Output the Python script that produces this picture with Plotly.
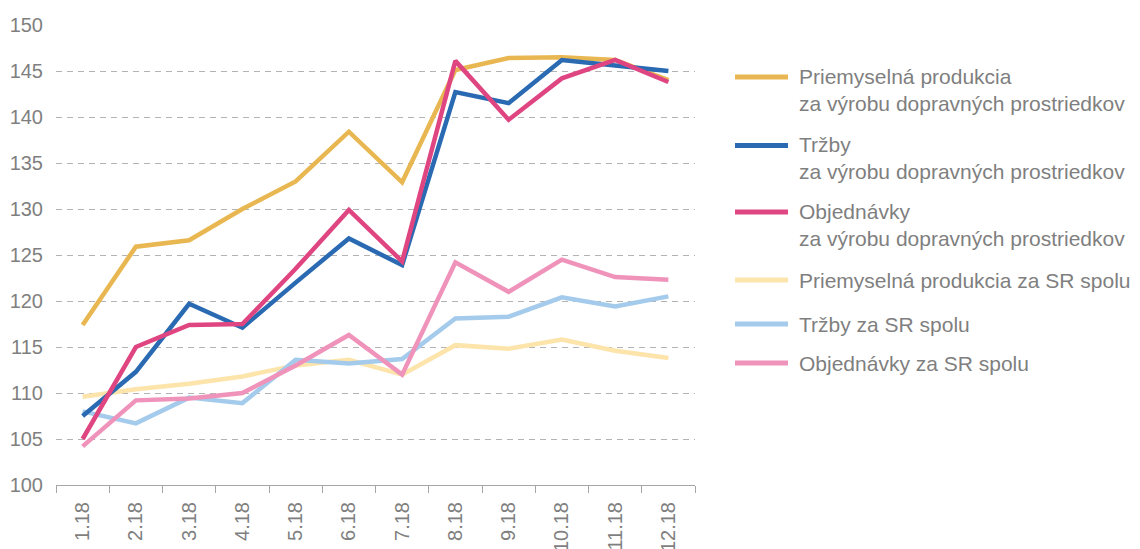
import plotly.graph_objects as go

categories = ["1.18", "2.18", "3.18", "4.18", "5.18", "6.18",
              "7.18", "8.18", "9.18", "10.18", "11.18", "12.18"]

prod_dp = [117.4, 125.9, 126.6, 130.0, 133.0, 138.4, 132.9, 145.1, 146.4, 146.5, 146.2, 144.0]
trzby_dp = [107.5, 112.3, 119.7, 117.1, 122.0, 126.8, 123.9, 142.7, 141.5, 146.2, 145.6, 145.0]
obj_dp = [105.0, 115.0, 117.4, 117.5, 123.5, 129.9, 124.3, 146.1, 139.7, 144.2, 146.2, 143.8]
prod_sr = [109.6, 110.4, 111.0, 111.8, 113.0, 113.6, 112.0, 115.2, 114.8, 115.8, 114.6, 113.8]
trzby_sr = [108.0, 106.7, 109.5, 108.9, 113.6, 113.2, 113.7, 118.1, 118.3, 120.4, 119.4, 120.5]
obj_sr = [104.2, 109.2, 109.4, 110.0, 113.0, 116.3, 112.0, 124.2, 121.0, 124.5, 122.6, 122.3]

series_names = [
    "Priemyselná produkcia<br>za výrobu dopravných prostriedkov",
    "Tržby<br>za výrobu dopravných prostriedkov",
    "Objednávky<br>za výrobu dopravných prostriedkov",
    "Priemyselná produkcia za SR spolu",
    "Tržby za SR spolu",
    "Objednávky za SR spolu",
]
series_values = [prod_dp, trzby_dp, obj_dp, prod_sr, trzby_sr, obj_sr]
series_colors = ["#E9B751", "#2A6AB2", "#DF4681", "#FCE4AB", "#A4CBEB", "#EF93BB"]

y_ticks = [100, 105, 110, 115, 120, 125, 130, 135, 140, 145, 150]

FONT = "Liberation Sans, Arial, sans-serif"
TXT = "#7f7f7f"

# the page body has an 8px default margin: size the figure to the visible window
OFF = 8
W, H = 1140 - OFF, 549 - OFF
# plot-area edges in window pixels
L, R, T, B = 56, 695, 25, 485
l, r, t, b = L - OFF, R - OFF, T - OFF, B - OFF

fig = go.Figure()
# draw SR series first, then the DP series on top
draw_order = [3, 4, 5, 0, 1, 2]
for i in draw_order:
    fig.add_trace(go.Scatter(
        x=categories, y=series_values[i], mode="lines",
        name=series_names[i].replace("<br>", " "),
        line=dict(color=series_colors[i], width=4.5),
        showlegend=False,
    ))

def px_x(px):
    return (px - L) / (R - L)

def px_y(py):
    return (B - py) / (B - T)

legend_y = [77, 145.5, 212, 280, 324, 363]
line_h = 25.5
shapes = []
annotations = []
for name, color, ly in zip(series_names, series_colors, legend_y):
    shapes.append(dict(type="line", xref="paper", yref="paper",
                       x0=px_x(735), x1=px_x(788), y0=px_y(ly), y1=px_y(ly),
                       line=dict(color=color, width=5)))
    n = name.count("<br>") + 1
    cy = ly + (n - 1) * line_h / 2
    annotations.append(dict(text=name, xref="paper", yref="paper",
                            x=px_x(797), y=px_y(cy), xanchor="left", yanchor="middle",
                            align="left", showarrow=False,
                            font=dict(family=FONT, size=21, color=TXT)))

fig.update_layout(
    width=W, height=H,
    margin=dict(l=l, r=W - r, t=t, b=H - b, pad=0),
    paper_bgcolor="white", plot_bgcolor="white",
    showlegend=False,
    font=dict(family=FONT, size=20, color=TXT),
    shapes=shapes, annotations=annotations,
    xaxis=dict(
        type="category", range=[-0.5, 11.5], automargin=False,
        showline=True, linecolor="#a6a6a6", linewidth=1,
        ticks="outside", tickson="boundaries", ticklen=7, tickcolor="#a6a6a6",
        tickangle=-90, showgrid=False, tickfont=dict(size=20, color=TXT),
        ticklabelstandoff=8,
    ),
    yaxis=dict(
        range=[100, 150], tickvals=y_ticks, automargin=False,
        showgrid=True, gridcolor="#b3b3b3", gridwidth=1, griddash="6px,5px",
        showline=False, zeroline=False, ticks="",
        tickfont=dict(size=20, color=TXT),
        ticklabelstandoff=12,
    ),
)

fig.write_html("out.html")
